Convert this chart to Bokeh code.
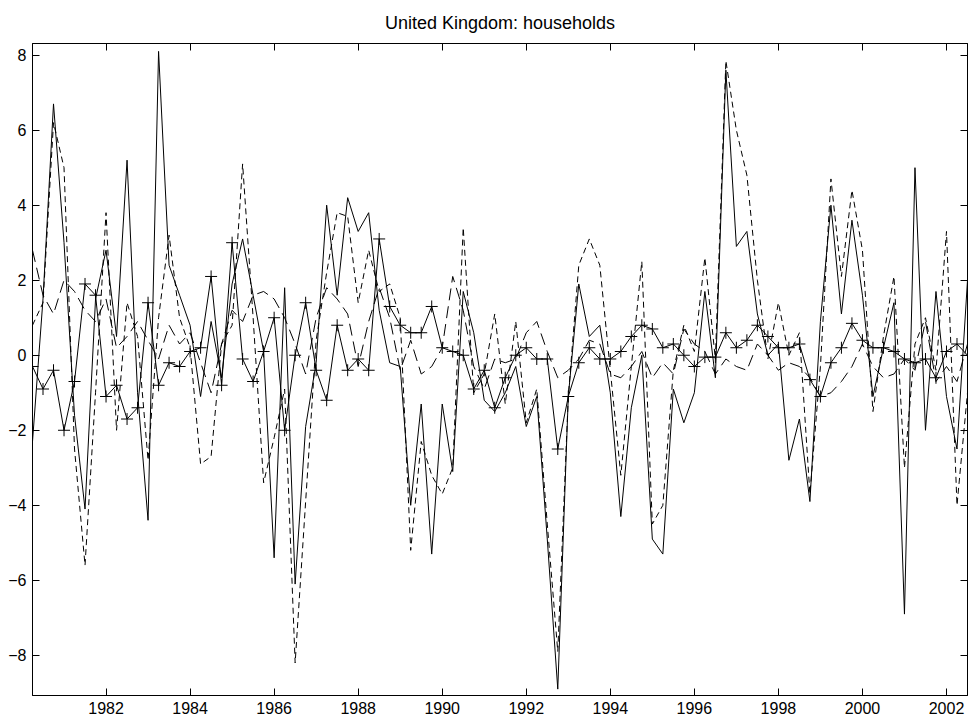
from bokeh.plotting import figure
from bokeh.models import Range1d, LinearAxis, FixedTicker, CustomJSTickFormatter
from bokeh.embed import file_html
from bokeh.resources import INLINE

# quarterly dates 1980Q2 .. 2002Q3
quarters = [1980.25 + 0.25 * i for i in range(90)]

series_solid = [-2.3, 1.5, 6.7, 3.0, -1.6, -4.1, 1.5, 2.8, 0.5, 5.2,
                -1.0, -4.4, 8.1, 2.4, 1.6, 0.8, -1.1, 0.9, -0.6, 1.9,
                3.1, 1.6, 0.1, -5.4, 1.8, -6.1, -1.9, -0.2, 4.0, 1.6,
                4.2, 3.3, 3.8, 1.2, -0.2, -0.3, -4.0, -1.3, -5.3, -1.3,
                -3.1, 1.7, 0.6, -1.2, -1.5, -1.0, -0.3, -1.9, -1.1, -4.9,
                -8.9, -1.1, 1.9, 0.5, 0.8, -1.0, -4.3, -1.4, 0.0, -4.9,
                -5.3, -0.9, -1.8, -1.0, 1.7, -0.6, 7.6, 2.9, 3.3, 1.1,
                0.0, 0.3, -2.8, -1.7, -3.9, 0.9, 4.0, 1.1, 3.6, 1.6,
                -1.1, 0.2, 1.4, -6.9, 5.0, -2.0, 1.7, -1.1, -2.5, 2.0]

series_dashed = [0.8, 1.4, 6.2, 5.0, -2.5, -5.6, -1.0, 3.8, -2.0, 1.4,
                 0.5, -2.8, 1.0, 3.2, 1.0, 0.2, -2.9, -2.7, 0.3, 0.8,
                 5.1, 1.0, -3.4, -2.2, -0.9, -8.2, -3.9, 0.4, 2.2, 3.8,
                 3.7, 1.4, 2.8, 1.7, 1.9, 1.0, -5.2, -2.3, -3.2, -3.7,
                 -3.0, 3.4, -1.0, -0.5, 1.1, -1.3, 0.9, -1.8, -0.9, -4.5,
                 -7.9, -1.1, 2.4, 3.1, 2.4, -0.4, -3.2, -0.3, 2.5, -4.5,
                 -4.0, -0.4, 0.8, 0.1, 2.6, -0.1, 7.85, 6.0, 4.8, 2.0,
                 -0.1, 1.4, 0.0, 0.6, -3.7, -0.3, 4.7, 2.1, 4.4, 2.8,
                 -1.5, 0.5, 2.1, -3.0, 0.3, 1.0, -0.4, 3.3, -4.0, -1.0]

series_dashdot = [2.8, 1.6, 1.1, 2.0, 1.7, 1.2, 0.9, 1.5, 0.2, 0.5,
                  0.9, 0.4, -0.1, 0.8, 0.3, 0.6, -0.2, -1.0, 0.3, 1.2,
                  0.9, 1.6, 1.7, 1.5, 1.0, 0.3, -0.5, 1.0, 1.8, 1.5,
                  1.1, -0.3, 0.9, 1.8, 1.0, -0.4, 0.4, -0.5, -0.3, 0.2,
                  2.1, 1.2, -0.3, -0.9, -0.1, -0.2, -0.1, 0.6, 0.9, 0.1,
                  -0.6, -0.4, -0.1, 0.4, 0.3, -0.5, -0.6, -0.3, 0.1, -0.6,
                  -0.2, -0.5, 0.7, 0.3, 0.1, -0.5, -0.1, -0.3, -0.4, 0.3,
                  0.0, -0.4, -0.2, -0.3, -0.6, -1.1, -1.0, -0.7, -0.3, 0.3,
                  -0.3, -0.6, -0.5, -0.1, -0.4, 0.9, -0.7, -0.3, -0.7, 0.3]

series_plus = [-0.3, -0.9, -0.4, -2.0, -0.7, 1.9, 1.6, -1.1, -0.8, -1.7,
               -1.4, 1.4, -0.8, -0.2, -0.3, 0.1, 0.2, 2.1, -0.8, 3.0,
               -0.1, -0.7, 0.1, 1.0, -2.0, 0.0, 1.4, -0.4, -1.2, 0.8,
               -0.4, -0.1, -0.4, 3.1, 1.3, 0.8, 0.6, 0.6, 1.3, 0.2,
               0.1, 0.0, -0.9, -0.4, -1.4, -0.6, 0.0, 0.2, -0.1, -0.1,
               -2.5, -1.1, -0.2, 0.2, -0.1, -0.1, 0.1, 0.5, 0.8, 0.7,
               0.2, 0.3, 0.0, -0.3, -0.05, -0.05, 0.6, 0.2, 0.4, 0.8,
               0.5, 0.2, 0.2, 0.3, -0.65, -1.1, -0.2, 0.2, 0.85, 0.4,
               0.2, 0.2, 0.1, -0.1, -0.2, -0.1, -0.6, 0.1, 0.3, 0.0]

x_ticks = [1982, 1984, 1986, 1988, 1990, 1992, 1994, 1996, 1998, 2000, 2002]
y_ticks = [-8, -6, -4, -2, 0, 2, 4, 6, 8]

FONT = "Liberation Sans"

p = figure(width=970, height=718, output_backend="svg", toolbar_location=None,
           x_range=Range1d(1980.25, 2002.5), y_range=Range1d(-9.07, 8.31),
           min_border_left=32, min_border_right=3, min_border_top=43,
           min_border_bottom=23)

p.title.text = "United Kingdom: households"
p.title.align = "center"
p.title.text_font = FONT
p.title.text_font_size = "18px"
p.title.text_font_style = "normal"
p.title.text_color = "black"
p.title.standoff = 21

p.xgrid.visible = False
p.ygrid.visible = False
p.outline_line_color = "black"
p.outline_line_alpha = 1.0
p.outline_line_width = 1

for ax, ticks in ((p.xaxis[0], x_ticks), (p.yaxis[0], y_ticks)):
    ax.ticker = FixedTicker(ticks=ticks)
    ax.major_tick_in = 7
    ax.major_tick_out = 0
    ax.minor_tick_in = 0
    ax.minor_tick_out = 0
    ax.axis_line_color = "black"
    ax.major_tick_line_color = "black"
    ax.major_label_text_font = FONT
    ax.major_label_text_font_size = "16px"
    ax.major_label_text_color = "black"
    ax.major_label_standoff = 6

blank = CustomJSTickFormatter(code="return '';")
top = LinearAxis(ticker=FixedTicker(ticks=x_ticks), formatter=blank,
                 major_tick_in=7, major_tick_out=0, minor_tick_in=0, minor_tick_out=0,
                 major_label_standoff=0, major_label_text_font_size="0px",
                 axis_line_color="black")
right = LinearAxis(ticker=FixedTicker(ticks=y_ticks), formatter=blank,
                   major_tick_in=7, major_tick_out=0, minor_tick_in=0, minor_tick_out=0,
                   major_label_standoff=0, major_label_text_font_size="0px",
                   axis_line_color="black")
p.add_layout(top, "above")
p.add_layout(right, "right")

p.line(quarters, series_solid, line_color="black", line_width=1)
p.line(quarters, series_dashed, line_color="black", line_width=1, line_dash="6 4")
p.line(quarters, series_dashdot, line_color="black", line_width=1, line_dash="12 6")
p.line(quarters, series_plus, line_color="black", line_width=1)
p.scatter(quarters, series_plus, marker="cross", size=12, line_color="black", line_width=1)

open("out.html", "w").write(file_html(p, INLINE))
